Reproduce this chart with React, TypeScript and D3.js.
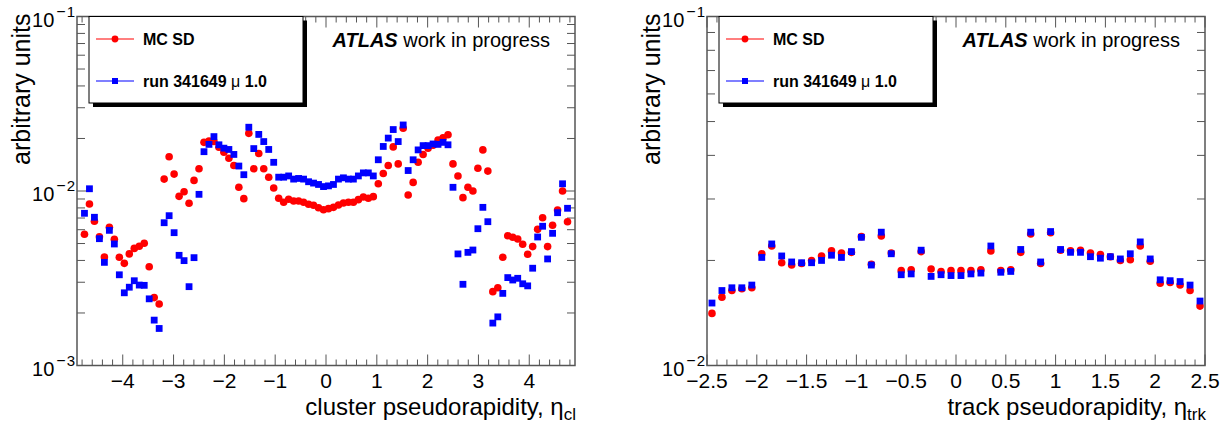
import React from "react";
import * as d3 from "d3";

const W = 1226;
const H = 425;
const FONT = "'Liberation Sans', Arial, Helvetica, sans-serif";

// ---- cluster pseudorapidity histograms (100 bins over [-4.9, 4.9], outer bins empty) ----
const CLUSTER_ETA_MIN = -4.9;
const CLUSTER_ETA_MAX = 4.9;
const CLUSTER_NBINS = 100;

const clusterMcSd: (number | null)[] = [
  null,
  5.65e-3, 8.42e-3, 6.71e-3, 5.47e-3, 4.18e-3, 6.19e-3, 5.29e-3, 4.17e-3, 3.85e-3, 4.36e-3,
  4.69e-3, 4.82e-3, 5.02e-3, 3.68e-3, 2.45e-3, 2.25e-3, 1.17e-2, 1.57e-2, 1.25e-2, 9.32e-3,
  9.91e-3, 8.5e-3, 1.15e-2, 1.34e-2, 1.9e-2, 1.93e-2, 1.92e-2, 1.78e-2, 1.67e-2, 1.54e-2,
  1.4e-2, 1.05e-2, 9.04e-3, 2.14e-2, 1.34e-2, 1.64e-2, 1.34e-2, 1.2e-2, 1.04e-2, 9.08e-3,
  8.62e-3, 8.96e-3, 8.76e-3, 8.76e-3, 8.62e-3, 8.39e-3, 8.28e-3, 8.02e-3, 7.81e-3,
  7.92e-3, 8.06e-3, 8.31e-3, 8.54e-3, 8.62e-3, 8.62e-3, 8.92e-3, 9.24e-3, 9.08e-3, 9.28e-3,
  1.1e-2, 1.26e-2, 1.4e-2, 1.79e-2, 1.43e-2, 2.29e-2, 9.49e-3, 1.12e-2, 1.46e-2, 1.62e-2,
  1.76e-2, 1.83e-2, 1.96e-2, 2.02e-2, 2.1e-2, 1.43e-2, 1.22e-2, 9.16e-3, 1.05e-2, 1.0e-2,
  1.35e-2, 1.72e-2, 1.3e-2, 2.65e-3, 2.79e-3, 4.17e-3, 5.54e-3, 5.43e-3, 5.31e-3, 4.95e-3,
  4.34e-3, 4.8e-3, 6.03e-3, 7.03e-3, 4.8e-3, 6.36e-3, 7.79e-3, 1.0e-2, 6.67e-3,
  null,
];

const clusterRun: (number | null)[] = [
  null,
  7.45e-3, 1.03e-2, 7.07e-3, 5.33e-3, 3.9e-3, 5.95e-3, 4.97e-3, 3.31e-3, 2.61e-3, 2.81e-3,
  3.06e-3, 2.89e-3, 2.88e-3, 2.41e-3, 1.82e-3, 1.63e-3, 6.58e-3, 7.22e-3, 5.77e-3, 4.28e-3,
  3.99e-3, 2.83e-3, 4.15e-3, 9.57e-3, 1.68e-2, 1.85e-2, 2.05e-2, 1.84e-2, 1.76e-2, 1.73e-2,
  1.62e-2, 1.39e-2, 1.24e-2, 2.32e-2, 1.75e-2, 2.11e-2, 1.92e-2, 1.73e-2, 1.46e-2, 1.2e-2,
  1.2e-2, 1.22e-2, 1.17e-2, 1.18e-2, 1.17e-2, 1.13e-2, 1.11e-2, 1.09e-2, 1.06e-2,
  1.07e-2, 1.09e-2, 1.17e-2, 1.19e-2, 1.17e-2, 1.17e-2, 1.22e-2, 1.27e-2, 1.27e-2, 1.22e-2,
  1.51e-2, 1.8e-2, 2.01e-2, 2.25e-2, 1.92e-2, 2.39e-2, 1.31e-2, 1.51e-2, 1.72e-2, 1.82e-2,
  1.82e-2, 1.86e-2, 1.85e-2, 1.9e-2, 1.84e-2, 1.05e-2, 4.36e-3, 2.92e-3, 4.45e-3, 4.59e-3,
  6.08e-3, 8.06e-3, 6.67e-3, 1.75e-3, 1.9e-3, 2.59e-3, 3.19e-3, 3.09e-3, 3.16e-3, 2.94e-3,
  2.86e-3, 3.61e-3, 5.45e-3, 6.28e-3, 4.08e-3, 5.72e-3, 7.51e-3, 1.1e-2, 7.96e-3,
  null,
];

// ---- track pseudorapidity histograms (50 bins over [-2.5, 2.5]) ----
const TRACK_ETA_MIN = -2.5;
const TRACK_ETA_MAX = 2.5;
const TRACK_NBINS = 50;

const trackMcSd: number[] = [
  1.41e-2, 1.57e-2, 1.64e-2, 1.66e-2, 1.67e-2, 2.09e-2, 2.2e-2, 1.97e-2, 1.94e-2, 1.96e-2,
  2.0e-2, 2.06e-2, 2.13e-2, 2.1e-2, 2.11e-2, 2.34e-2, 1.95e-2, 2.35e-2, 2.1e-2, 1.87e-2,
  1.88e-2, 2.12e-2, 1.89e-2, 1.86e-2, 1.87e-2, 1.87e-2, 1.87e-2, 1.88e-2, 2.13e-2, 1.87e-2,
  1.88e-2, 2.11e-2, 2.38e-2, 1.96e-2, 2.4e-2, 2.14e-2, 2.13e-2, 2.14e-2, 2.1e-2, 2.08e-2,
  2.05e-2, 2.0e-2, 2.01e-2, 2.2e-2, 1.99e-2, 1.72e-2, 1.73e-2, 1.7e-2, 1.64e-2, 1.48e-2,
];

const trackRun: number[] = [
  1.51e-2, 1.64e-2, 1.67e-2, 1.67e-2, 1.7e-2, 2.04e-2, 2.23e-2, 2.06e-2, 1.98e-2, 1.97e-2,
  1.97e-2, 2.0e-2, 2.07e-2, 2.04e-2, 2.12e-2, 2.33e-2, 1.94e-2, 2.41e-2, 2.09e-2, 1.82e-2,
  1.83e-2, 2.14e-2, 1.8e-2, 1.82e-2, 1.81e-2, 1.81e-2, 1.83e-2, 1.84e-2, 2.2e-2, 1.85e-2,
  1.86e-2, 2.15e-2, 2.41e-2, 1.98e-2, 2.42e-2, 2.15e-2, 2.11e-2, 2.11e-2, 2.05e-2, 2.03e-2,
  2.05e-2, 2.02e-2, 2.09e-2, 2.26e-2, 2.02e-2, 1.76e-2, 1.75e-2, 1.74e-2, 1.7e-2, 1.53e-2,
];

// axis ticks and labels
const clusterMajorTicks = [-4, -3, -2, -1, 0, 1, 2, 3, 4];
const trackMajorTicks = [-2.5, -2, -1.5, -1, -0.5, 0, 0.5, 1, 1.5, 2, 2.5];
const legendLabels = ["MC SD", "run 341649"];
const legendMu = "\u03bc";
const legendMuValue = "1.0";
const headerBold = "ATLAS";
const headerRest = " work in progress";
const yAxisTitle = "arbitrary units";

const RED = "#ff0000";
const BLUE = "#0000ff";
const AXIS = "#555555";

const fmtTick = (v: number) => (v < 0 ? "\u2212" + d3.format("~g")(-v) : d3.format("~g")(v));

type PanelProps = {
  left: number;
  xMin: number;
  xMax: number;
  nBins: number;
  mc: (number | null)[];
  run: (number | null)[];
  majors: number[];
  minorStep: number;
  yMin: number;
  yMax: number;
  xTitle: string;
  xSub: string;
};

function Panel(p: PanelProps) {
  const top = 16.5;
  const bottom = 365.5;
  const right = p.left + 498;
  const x = d3.scaleLinear().domain([p.xMin, p.xMax]).range([p.left, right]);
  const y = d3.scaleLog().domain([p.yMin, p.yMax]).range([bottom, top]);
  const bw = (p.xMax - p.xMin) / p.nBins;
  const centers = d3.range(p.nBins).map((i) => p.xMin + (i + 0.5) * bw);

  // minor x ticks
  const nLo = Math.ceil(p.xMin / p.minorStep - 1e-9);
  const nHi = Math.floor(p.xMax / p.minorStep + 1e-9);
  const minors = d3
    .range(nLo, nHi + 1)
    .map((n) => n * p.minorStep)
    .filter((v) => !p.majors.some((m) => Math.abs(m - v) < 1e-6));

  // log y ticks
  const e0 = Math.round(Math.log10(p.yMin));
  const e1 = Math.round(Math.log10(p.yMax));
  const yTicks: { v: number; major: boolean }[] = [];
  for (let e = e0; e < e1; e++) {
    for (let m = 1; m <= 9; m++) yTicks.push({ v: m * Math.pow(10, e), major: m === 1 });
  }
  yTicks.push({ v: Math.pow(10, e1), major: true });
  const decades = d3.range(e0, e1 + 1);

  const xMaj = 11, xMin = 6, yMaj = 11, yMin = 8;

  const legX = p.left + 12;
  const legY = top;
  const legW = 214;
  const legH = 86.5;

  return (
    <g>
      {/* frame */}
      <rect x={p.left} y={top} width={498} height={bottom - top} fill="white" stroke={AXIS} strokeWidth={1.5} />
      {/* x ticks, bottom and top */}
      {p.majors.map((v) => (
        <g key={"M" + v}>
          <line x1={x(v)} x2={x(v)} y1={bottom} y2={bottom - xMaj} stroke={AXIS} strokeWidth={1} />
          <line x1={x(v)} x2={x(v)} y1={top} y2={top + xMaj} stroke={AXIS} strokeWidth={1} />
        </g>
      ))}
      {minors.map((v) => (
        <g key={"m" + v}>
          <line x1={x(v)} x2={x(v)} y1={bottom} y2={bottom - xMin} stroke={AXIS} strokeWidth={1} />
          <line x1={x(v)} x2={x(v)} y1={top} y2={top + xMin} stroke={AXIS} strokeWidth={1} />
        </g>
      ))}
      {/* y ticks, left and right */}
      {yTicks.map((t) => (
        <g key={"y" + t.v}>
          <line x1={p.left} x2={p.left + (t.major ? yMaj : yMin)} y1={y(t.v)} y2={y(t.v)} stroke={AXIS} strokeWidth={1} />
          <line x1={right} x2={right - (t.major ? yMaj : yMin)} y1={y(t.v)} y2={y(t.v)} stroke={AXIS} strokeWidth={1} />
        </g>
      ))}

      {/* data: MC first, run on top */}
      {centers.map((c, i) =>
        p.mc[i] == null ? null : <circle key={"r" + i} cx={x(c)} cy={y(p.mc[i] as number)} r={3.8} fill={RED} />
      )}
      {centers.map((c, i) =>
        p.run[i] == null ? null : (
          <rect key={"b" + i} x={x(c) - 3.4} y={y(p.run[i] as number) - 3.4} width={6.8} height={6.8} fill={BLUE} />
        )
      )}

      {/* x tick labels */}
      {p.majors.map((v) => (
        <text key={"xl" + v} x={x(v)} y={388} fontSize={21} textAnchor="middle" fontFamily={FONT}>
          {fmtTick(v)}
        </text>
      ))}
      {/* y tick labels */}
      {decades.map((e) => (
        <text key={"yl" + e} x={p.left - 2} y={y(Math.pow(10, e)) + 10} textAnchor="end" fontFamily={FONT}>
          <tspan fontSize={20}>10</tspan>
          <tspan fontSize={16} dy={-10} dx={2}>
            {e < 0 ? "\u2212" : ""}
          </tspan>
          <tspan fontSize={15} dx={1}>
            {String(Math.abs(e))}
          </tspan>
        </text>
      ))}

      {/* axis titles */}
      <text x={right + 1} y={415} textAnchor="end" fontFamily={FONT}>
        <tspan fontSize={24}>{p.xTitle}</tspan>
        <tspan fontSize={17} dy={5}>
          {p.xSub}
        </tspan>
      </text>
      <text
        transform={`translate(${p.left - 47},${top - 3}) rotate(-90)`}
        textAnchor="end"
        fontSize={25}
        fontFamily={FONT}
      >
        {yAxisTitle}
      </text>

      {/* legend */}
      <rect x={legX + 4} y={legY + 4} width={legW} height={legH} fill="black" />
      <rect x={legX} y={legY} width={legW} height={legH} fill="white" stroke="black" strokeWidth={1} />
      {[0, 1].map((k) => {
        const cy = legY + 22.5 + k * 42;
        const color = k === 0 ? RED : BLUE;
        return (
          <g key={"leg" + k}>
            <line x1={legX + 7} x2={legX + 45} y1={cy} y2={cy} stroke={color} strokeWidth={1.2} />
            {k === 0 ? (
              <circle cx={legX + 26} cy={cy} r={3.4} fill={color} />
            ) : (
              <rect x={legX + 23} y={cy - 3} width={6} height={6} fill={color} />
            )}
            <text x={legX + 54} y={cy + 6} fontSize={16} fontWeight="bold" fontFamily={FONT}>
              {legendLabels[k]}
              {k === 1 ? (
                <>
                  <tspan fontWeight="normal"> {legendMu}</tspan>
                  <tspan> {legendMuValue}</tspan>
                </>
              ) : null}
            </text>
          </g>
        );
      })}

      {/* experiment label */}
      <text x={right - 25} y={47} textAnchor="end" fontSize={20} fontFamily={FONT}>
        <tspan fontWeight="bold" fontStyle="italic">
          {headerBold}
        </tspan>
        <tspan>{headerRest}</tspan>
      </text>
    </g>
  );
}

export default function App() {
  return (
    <svg width={W} height={H} style={{ display: "block", position: "absolute", left: 0, top: 0, background: "white" }}>
      <rect x={0} y={0} width={W} height={H} fill="white" />
      <Panel
        left={77}
        xMin={CLUSTER_ETA_MIN}
        xMax={CLUSTER_ETA_MAX}
        nBins={CLUSTER_NBINS}
        mc={clusterMcSd}
        run={clusterRun}
        majors={clusterMajorTicks}
        minorStep={0.2}
        yMin={1e-3}
        yMax={1e-1}
        xTitle={"cluster pseudorapidity, \u03b7"}
        xSub="cl"
      />
      <Panel
        left={707}
        xMin={TRACK_ETA_MIN}
        xMax={TRACK_ETA_MAX}
        nBins={TRACK_NBINS}
        mc={trackMcSd}
        run={trackRun}
        majors={trackMajorTicks}
        minorStep={0.1}
        yMin={1e-2}
        yMax={1e-1}
        xTitle={"track pseudorapidity, \u03b7"}
        xSub="trk"
      />
    </svg>
  );
}
